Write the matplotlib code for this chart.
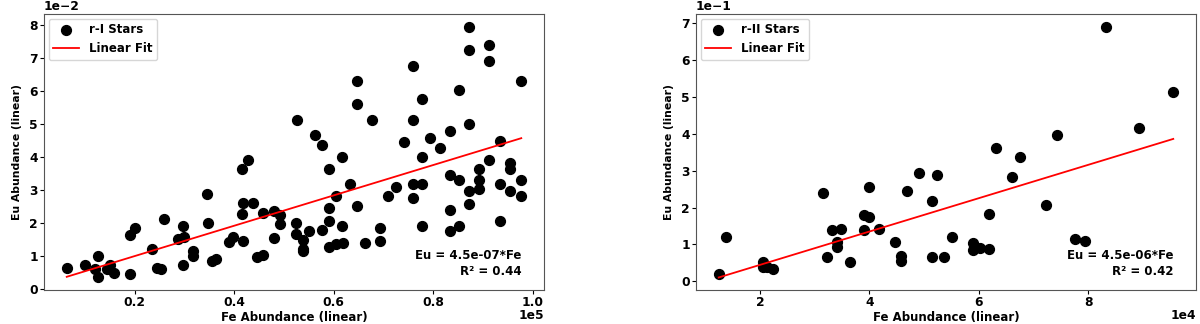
import numpy as np
import matplotlib
matplotlib.use('Agg')
import matplotlib.pyplot as plt

plt.rcParams['font.family'] = 'DejaVu Sans'
plt.rcParams['font.weight'] = 'bold'
plt.rcParams['axes.labelweight'] = 'bold'

# ── r-I stars (Fe in units of 1e5, Eu absolute) ──────────────────────────────
fe_r1 = np.array([
    0.063, 0.099, 0.125, 0.120, 0.125, 0.144, 0.150, 0.158, 0.191, 0.191,
    0.200, 0.235, 0.245, 0.252, 0.258, 0.297, 0.287, 0.298, 0.297, 0.317,
    0.317, 0.346, 0.348, 0.355, 0.364, 0.390, 0.398, 0.417, 0.416, 0.417,
    0.416, 0.427, 0.437, 0.445, 0.458, 0.457, 0.479, 0.491, 0.491, 0.479,
    0.524, 0.524, 0.538, 0.538, 0.538, 0.551, 0.577, 0.590, 0.617, 0.590,
    0.590, 0.604, 0.632, 0.647, 0.617, 0.590, 0.604, 0.618, 0.663, 0.692,
    0.692, 0.709, 0.726, 0.759, 0.777, 0.759, 0.777, 0.777, 0.833, 0.833,
    0.833, 0.852, 0.852, 0.872, 0.872, 0.892, 0.892, 0.892, 0.912, 0.934,
    0.934, 0.954, 0.954, 0.954, 0.977, 0.977, 0.872, 0.872, 0.912, 0.912,
    0.759, 0.647, 0.977, 0.852, 0.647, 0.777, 0.526, 0.677, 0.759, 0.872,
    0.563, 0.577, 0.833, 0.794, 0.742, 0.813, 0.934,
]) * 1e5
eu_r1 = np.array([
    0.0065, 0.0074, 0.0100, 0.0062, 0.0035, 0.0062, 0.0072, 0.0047, 0.0044, 0.0163,
    0.0186, 0.0122, 0.0065, 0.0061, 0.0213, 0.0191, 0.0153, 0.0159, 0.0072, 0.0115,
    0.0101, 0.0289, 0.0201, 0.0084, 0.0090, 0.0142, 0.0159, 0.0147, 0.0226, 0.0262,
    0.0363, 0.0390, 0.0262, 0.0096, 0.0102, 0.0230, 0.0236, 0.0225, 0.0197, 0.0155,
    0.0201, 0.0167, 0.0149, 0.0122, 0.0115, 0.0175, 0.0178, 0.0363, 0.0400, 0.0245,
    0.0205, 0.0283, 0.0318, 0.0253, 0.0191, 0.0127, 0.0137, 0.0141, 0.0141, 0.0186,
    0.0147, 0.0281, 0.0309, 0.0317, 0.0317, 0.0277, 0.0191, 0.0400, 0.0347, 0.0240,
    0.0175, 0.0331, 0.0191, 0.0296, 0.0257, 0.0363, 0.0331, 0.0302, 0.0390, 0.0318,
    0.0206, 0.0382, 0.0363, 0.0296, 0.0331, 0.0281, 0.0796, 0.0724, 0.0741, 0.0691,
    0.0676, 0.0631, 0.0631, 0.0603, 0.0562, 0.0576, 0.0513, 0.0513, 0.0513, 0.0500,
    0.0467, 0.0437, 0.0478, 0.0458, 0.0447, 0.0427, 0.0448,
])
fit_r1 = (4.6e-7, 8e-4)          # slope, intercept as drawn
label_r1 = 'Eu = 4.5e-07*Fe\nR² = 0.44'

# ── r-II stars (Fe in units of 1e4) ──────────────────────────────────────────
fe_r2 = np.array([
    1.245, 1.386, 2.057, 2.057, 2.13, 2.24, 3.156, 3.23, 3.31, 3.48,
    3.40, 3.40, 3.645, 3.896, 3.998, 3.998, 3.896, 4.18, 4.474, 4.584,
    4.584, 4.683, 4.903, 5.244, 5.147, 5.147, 5.37, 5.507, 8.333, 9.555,
    8.92, 7.423, 6.319, 6.758, 6.612, 7.234, 6.178, 5.892, 5.892, 6.026,
    6.185, 7.766, 7.95,
]) * 1e4
eu_r2 = np.array([
    0.0184, 0.119, 0.051, 0.038, 0.038, 0.032, 0.239, 0.065, 0.138, 0.141,
    0.106, 0.094, 0.051, 0.179, 0.174, 0.257, 0.138, 0.143, 0.107, 0.069,
    0.054, 0.244, 0.293, 0.287, 0.218, 0.065, 0.065, 0.1195, 0.691, 0.5125,
    0.416, 0.397, 0.3626, 0.338, 0.282, 0.208, 0.182, 0.103, 0.0835, 0.0897,
    0.087, 0.114, 0.109,
])
fit_r2 = (4.523e-6, -0.046)
label_r2 = 'Eu = 4.5e-06*Fe\nR² = 0.42'

fig = plt.figure(figsize=(12, 3.24), dpi=100)
ax1 = fig.add_axes([44 / 1200, 34 / 324, 500 / 1200, 276 / 324])
ax2 = fig.add_axes([696 / 1200, 34 / 324, 500 / 1200, 276 / 324])

panels = [
    (ax1, fe_r1, eu_r1, fit_r1, 'r-I Stars', label_r1),
    (ax2, fe_r2, eu_r2, fit_r2, 'r-II Stars', label_r2),
]

for ax, fe, eu, (slope, icpt), name, txt in panels:
    ax.scatter(fe, eu, s=50, color='black', label=name, zorder=2)
    xs = np.array([fe.min(), fe.max()])
    ax.plot(xs, slope * xs + icpt, color='red', linewidth=1.3, label='Linear Fit', zorder=3)

    ax.set_xlabel('Fe Abundance (linear)', fontsize=8.5, fontweight='bold', labelpad=1)
    ax.set_ylabel('Eu Abundance (linear)', fontsize=7.8, fontweight='bold', labelpad=5)
    ax.ticklabel_format(style='sci', axis='both', scilimits=(0, 0))
    ax.tick_params(labelsize=8.8, length=3, pad=1.5)
    for lbl in ax.get_xticklabels() + ax.get_yticklabels():
        lbl.set_fontweight('bold')
    for off in (ax.xaxis.get_offset_text(), ax.yaxis.get_offset_text()):
        off.set_fontsize(8.8)
        off.set_fontweight('bold')
    for sp in ax.spines.values():
        sp.set_color('#555555')

    ax.legend(loc='upper left', prop={'size': 8.5, 'weight': 'bold'},
              borderaxespad=0.4, handlelength=2.2)
    ax.text(0.955, 0.045, txt, transform=ax.transAxes, ha='right', va='bottom',
            fontsize=8.5, fontweight='bold', linespacing=1.25)

fig.canvas.draw()
# x offset label sits beside the axis label, as in the original
for ax in (ax1, ax2):
    off_str = ax.xaxis.get_major_formatter().get_offset()
    ax.xaxis.get_offset_text().set_visible(False)
    ax.text(1.0, -0.094, off_str, transform=ax.transAxes, ha='right', va='center',
            fontsize=8.8, fontweight='bold')

fig.savefig('out.png', dpi=100)
